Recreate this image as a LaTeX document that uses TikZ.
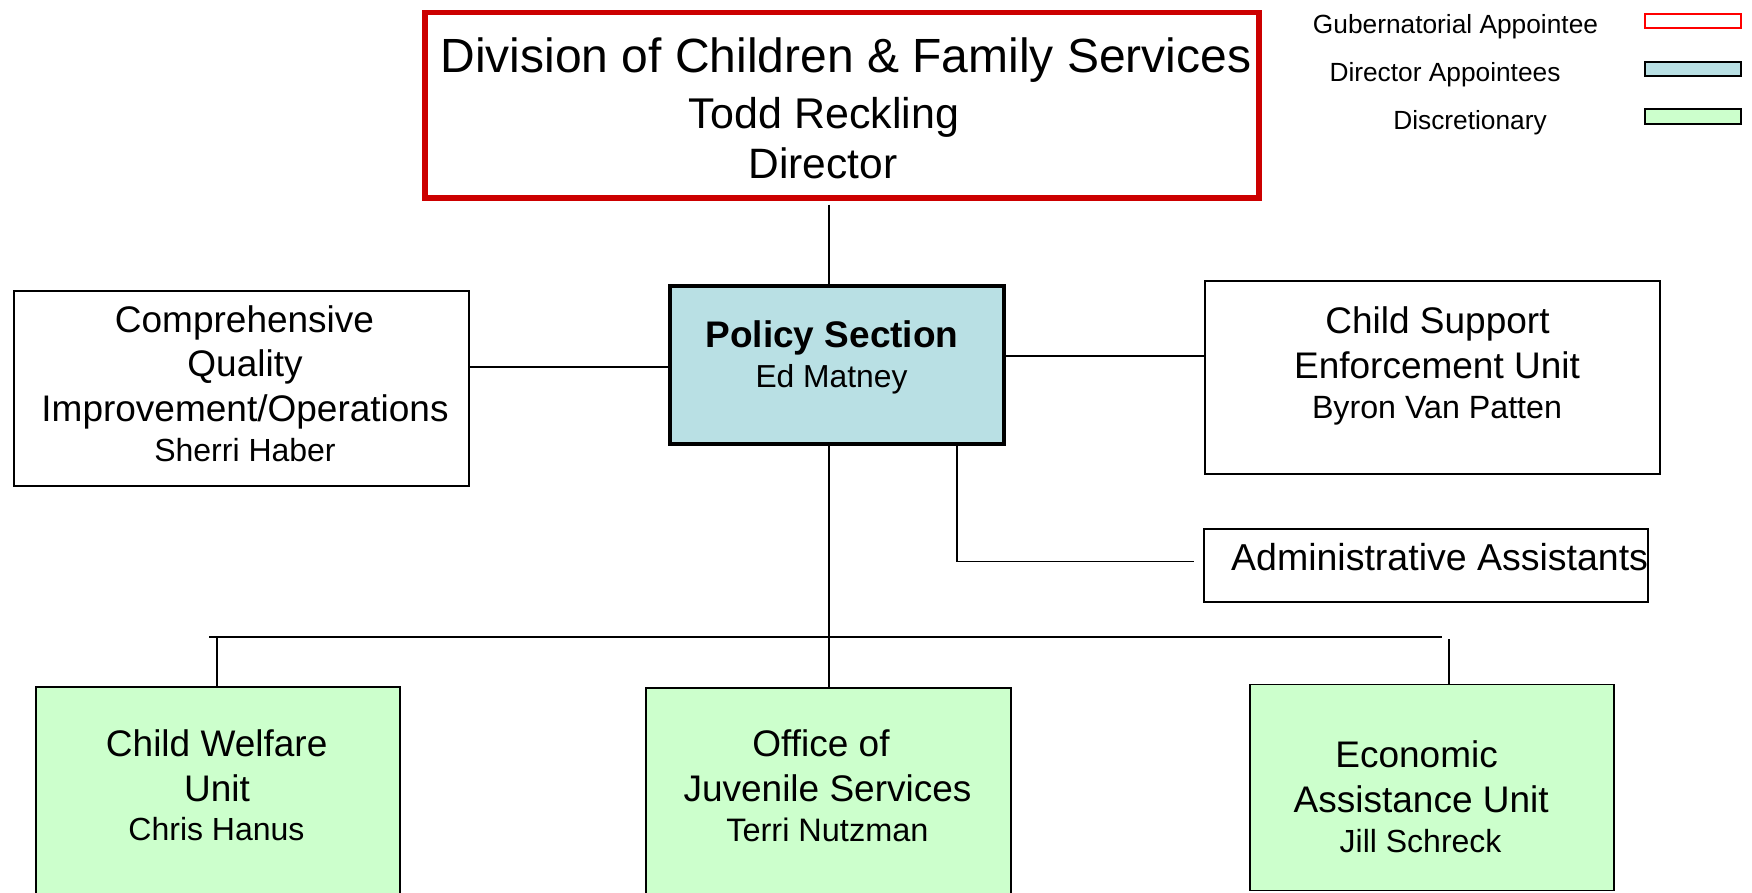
\documentclass[tikz,border=0pt]{standalone}
\usepackage{fontspec}
\setmainfont{Liberation Sans}
\usetikzlibrary{calc}
\definecolor{dirred}{RGB}{204,0,0}
\definecolor{legred}{RGB}{255,0,0}
\definecolor{polblue}{RGB}{185,224,228}
\definecolor{discgreen}{RGB}{204,255,204}
\newcommand\orgline[5]{\node[anchor=base,inner sep=0pt,font=\fontsize{#4}{#4}\selectfont] (#1) at (#2,#3) {#5};}
\begin{document}
\begin{tikzpicture}[x=1pt,y=-1pt,
  box/.style={draw=black,line width=1.8pt,inner sep=0pt,fill=white},
  conn/.style={draw=black,line width=1.8pt}]
\useasboundingbox (0,0) rectangle (1752,893);
% boxes
\node[box,draw=dirred,line width=5.5pt,minimum width=834pt,minimum height=185.5pt] (top) at (842,105.25) {};
\node[box,fill=polblue,line width=4.2pt,minimum width=334pt,minimum height=158pt] (pol) at (837,365) {};
\node[box,minimum width=455pt,minimum height=195pt] (cqi) at (241.5,388.5) {};
\node[box,minimum width=455pt,minimum height=193pt] (cs) at (1432.5,377.5) {};
\node[box,minimum width=444pt,minimum height=73pt] (admin) at (1426,565.5) {};
\node[box,fill=discgreen,minimum width=364pt,minimum height=208pt] (cw) at (218,791) {};
\node[box,fill=discgreen,minimum width=365pt,minimum height=208pt] (ojs) at (828.5,792) {};
\node[box,fill=discgreen,minimum width=364pt,minimum height=206pt] (econ) at (1432,787.5) {};
% legend swatches
\node[box,draw=legred,line width=1.8pt,minimum width=96pt,minimum height=14pt] (lgred) at (1693,21) {};
\node[box,fill=polblue,line width=2.2pt,minimum width=96pt,minimum height=14pt] (lgblue) at (1693,69) {};
\node[box,fill=discgreen,line width=2.2pt,minimum width=96pt,minimum height=15pt] (lggreen) at (1693,116.5) {};
% texts
\orgline{t1}{846}{72.7}{48}{Division of Children \& Family Services}
\orgline{t2}{824}{128.3}{43}{Todd Reckling}
\orgline{t3}{823}{179}{42.5}{Director}
\orgline{p1}{832}{347.3}{37}{\bfseries Policy Section}
\orgline{p2}{831.5}{387.3}{31.8}{Ed Matney}
\orgline{q1}{244.5}{332.7}{37}{Comprehensive}
\orgline{q2}{245}{376.7}{37}{Quality}
\orgline{q3}{245}{421.7}{37}{Improvement/Operations}
\orgline{q4}{245}{461.7}{32}{Sherri Haber}
\orgline{c1}{1437.5}{333.3}{37}{Child Support}
\orgline{c2}{1437}{378.3}{37}{Enforcement Unit}
\orgline{c3}{1437}{418.3}{32.2}{Byron Van Patten}
\orgline{a1}{1439.6}{570.5}{37.5}{Administrative Assistants}
\orgline{w1}{216.7}{756.7}{37}{Child Welfare}
\orgline{w2}{217}{801.7}{37}{Unit}
\orgline{w3}{216.5}{840.7}{32}{Chris Hanus}
\orgline{o1}{821}{756}{37}{Office of}
\orgline{o2}{827.5}{801.7}{37}{Juvenile Services}
\orgline{o3}{827.4}{841.7}{32.5}{Terri Nutzman}
\orgline{e1}{1416.6}{767.7}{37}{Economic}
\orgline{e2}{1421.2}{812.7}{37}{Assistance Unit}
\orgline{e3}{1420.6}{852.3}{32}{Jill Schreck}
\orgline{g1}{1455.5}{33.5}{26.3}{Gubernatorial Appointee}
\orgline{g2}{1445}{82}{26.3}{Director Appointees}
\orgline{g3}{1470}{130}{26.3}{Discretionary}
% connectors
\coordinate (busL) at (209,637);
\coordinate (busR) at (1442,637);
\coordinate (topdrop) at ([xshift=-13pt,yshift=-4pt]top.south);
\coordinate (polin) at ([xshift=-8pt]pol.north);
\coordinate (polout) at ([xshift=-8pt]pol.south);
\coordinate (polad) at ([xshift=120pt]pol.south);
\coordinate (adin) at ([xshift=-9pt,yshift=4pt]admin.west);
\coordinate (cqiout) at ([yshift=21.5pt]cqi.east);
\coordinate (polcs) at ([yshift=9pt]pol.east);
\coordinate (cwin) at ([xshift=-1pt]cw.north);
\coordinate (ojsin) at ([xshift=0.5pt]ojs.north);
\coordinate (econin) at ([xshift=17pt]econ.north);
\draw[conn] (topdrop) -- (topdrop |- polin);
\draw[conn] (cqiout) -- (cqiout -| pol.west);
\draw[conn] (polcs) -- (polcs -| cs.west);
\draw[conn] (polad) |- (adin);
\draw[conn] (polout) -- (polout |- busL);
\draw[conn] (busL) -- (busR);
\draw[conn] (cwin |- busL) -- (cwin);
\draw[conn] (ojsin |- busL) -- (ojsin);
\draw[conn] ($(econin |- busR)+(0,2)$) -- (econin);
\end{tikzpicture}
\end{document}
